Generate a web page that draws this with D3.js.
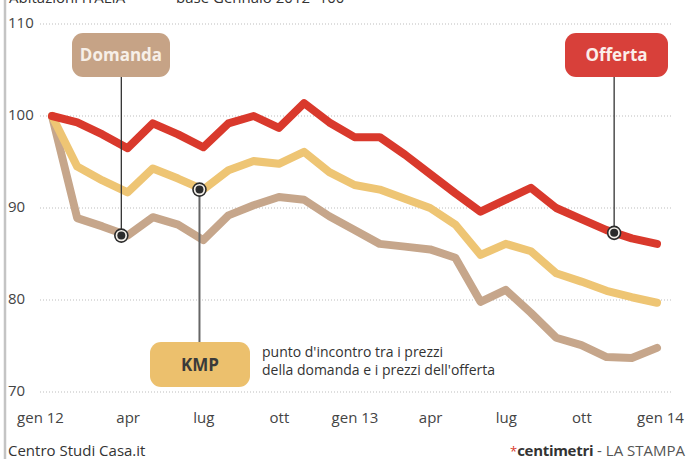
<!DOCTYPE html>
<html>
<head>
<meta charset="utf-8">
<script src="https://cdn.jsdelivr.net/npm/d3@7"></script>
<style>
  body { margin: 0; background: #fff; }
  svg { display: block; font-family: "Open Sans", "Noto Sans", sans-serif; }
</style>
</head>
<body>
<div id="chart"></div>
<script>
// Months from gen 12 (0) to gen 14 (24)
const months = d3.range(0, 25);
const tickMonths = [0, 3, 6, 9, 12, 15, 18, 21, 24];
const tickLabels = ["gen 12", "apr", "lug", "ott", "gen 13", "apr", "lug", "ott", "gen 14"];
const yTicks = [70, 80, 90, 100, 110];

// Index, base Gennaio 2012 = 100
const offerta = [100, 99.3, 98.0, 96.5, 99.2, 98.0, 96.6, 99.2, 100, 98.7, 101.4, 99.3, 97.7,
                 97.7, 95.8, 93.7, 91.6, 89.6, 90.9, 92.2, 90.0, 88.8, 87.6, 86.7, 86.1];
const kmp     = [100, 94.5, 93.0, 91.7, 94.3, 93.2, 92.0, 94.1, 95.1, 94.8, 96.1, 93.9, 92.5,
                 92.0, 91.0, 90.0, 88.2, 84.9, 86.1, 85.3, 82.9, 82.0, 81.0, 80.3, 79.7];
const domanda = [100, 88.9, 88.0, 87.0, 89.0, 88.2, 86.5, 89.2, 90.3, 91.2, 90.9, 89.1, 87.6,
                 86.1, 85.8, 85.5, 84.6, 79.8, 81.1, 78.6, 75.9, 75.1, 73.8, 73.7, 74.8];

const seriesNames = ["Domanda", "KMP", "Offerta"];
const seriesValues = [domanda, kmp, offerta];
const seriesColors = ["#c6a68b", "#eec574", "#d9392c"];

// callouts: month and value of the marked point
const markerMonths = [2.75, 5.85, 22.3];
const markerValues = [87.0, 92.0, 87.3];

const W = 687, H = 459;
const svg = d3.select("#chart").append("svg")
  .attr("width", W).attr("height", H);

const x = d3.scaleLinear().domain([0, 24]).range([52, 657]);
const y = d3.scaleLinear().domain([70, 110]).range([392, 24]);

// left border
svg.append("line")
  .attr("x1", 5).attr("x2", 5).attr("y1", 0).attr("y2", H)
  .attr("stroke", "#c4c4c4").attr("stroke-width", 2.5);

// header (cut off at top, as in the original)
svg.append("text").attr("x", 9).attr("y", 3)
  .attr("font-size", 15).attr("fill", "#333").text("Abitazioni ITALIA");
svg.append("text").attr("x", 176).attr("y", 3)
  .attr("font-size", 15).attr("fill", "#333").text("base Gennaio 2012=100");

// gridlines + y labels
const yAxis = svg.append("g");
yAxis.selectAll("line.grid")
  .data(yTicks)
  .enter().append("line")
  .attr("class", "grid")
  .attr("x1", 40).attr("x2", 672)
  .attr("y1", d => y(d)).attr("y2", d => y(d))
  .attr("stroke", "#bdbdbd")
  .attr("stroke-width", 1)
  .attr("stroke-dasharray", "1,2");
yAxis.selectAll("text.ylab")
  .data(yTicks)
  .enter().append("text")
  .attr("class", "ylab")
  .attr("x", 8)
  .attr("y", d => y(d) + 4)
  .attr("font-size", 15)
  .attr("fill", "#444")
  .text(d => d);

// x axis labels
const xAxis = svg.append("g")
  .attr("transform", "translate(0,409)")
  .call(d3.axisBottom(x).tickValues(tickMonths).tickSize(0).tickPadding(0)
    .tickFormat((d, i) => tickLabels[i]));
xAxis.select(".domain").remove();
xAxis.selectAll("text")
  .attr("font-size", 15)
  .attr("font-family", "\"Open Sans\", sans-serif")
  .attr("fill", "#444")
  .attr("dy", "0.95em")
  .attr("dx", (d, i) => i === 0 ? -12 : (i === 8 ? 3 : 0));

// lines
const line = d3.line()
  .x((d, i) => x(months[i]))
  .y(d => y(d));

svg.selectAll("path.series")
  .data(seriesValues)
  .enter().append("path")
  .attr("class", "series")
  .attr("d", line)
  .attr("fill", "none")
  .attr("stroke", (d, i) => seriesColors[i])
  .attr("stroke-width", 8)
  .attr("stroke-linejoin", "round")
  .attr("stroke-linecap", "round");

// callout boxes
const boxes = [
  { name: "Domanda", x0: 72, y0: 33, w: 98, h: 44, fill: "#c6a386", text: "#f7efe8" },
  { name: "KMP", x0: 150, y0: 342, w: 100, h: 45, fill: "#ecc06d", text: "#3a3a3a" },
  { name: "Offerta", x0: 565, y0: 33, w: 103, h: 44, fill: "#d8403a", text: "#fbeeea" }
];

// leader lines
svg.append("line")
  .attr("x1", x(markerMonths[0])).attr("x2", x(markerMonths[0]))
  .attr("y1", 77).attr("y2", y(markerValues[0]))
  .attr("stroke", "#333").attr("stroke-width", 1.3);
svg.append("line")
  .attr("x1", x(markerMonths[1])).attr("x2", x(markerMonths[1]))
  .attr("y1", y(markerValues[1])).attr("y2", 342)
  .attr("stroke", "#666").attr("stroke-width", 2);
svg.append("line")
  .attr("x1", x(markerMonths[2])).attr("x2", x(markerMonths[2]))
  .attr("y1", 77).attr("y2", y(markerValues[2]))
  .attr("stroke", "#333").attr("stroke-width", 1.3);

boxes.forEach(b => {
  svg.append("rect")
    .attr("x", b.x0).attr("y", b.y0)
    .attr("width", b.w).attr("height", b.h)
    .attr("rx", 11)
    .attr("fill", b.fill);
  svg.append("text")
    .attr("x", b.x0 + b.w / 2)
    .attr("y", b.y0 + b.h / 2 + 6)
    .attr("text-anchor", "middle")
    .attr("font-size", 17)
    .attr("font-weight", "bold")
    .attr("fill", b.text)
    .text(b.name);
});

svg.append("text")
  .attr("x", 262).attr("y", 357)
  .attr("font-size", 14).attr("fill", "#333")
  .text("punto d'incontro tra i prezzi");
svg.append("text")
  .attr("x", 262).attr("y", 375)
  .attr("font-size", 14).attr("fill", "#333")
  .text("della domanda e i prezzi dell'offerta");

// markers
const mk = svg.selectAll("g.marker")
  .data(markerMonths)
  .enter().append("g")
  .attr("class", "marker")
  .attr("transform", (d, i) => `translate(${x(d)},${y(markerValues[i])})`);
mk.append("circle").attr("r", 6.5)
  .attr("fill", "#f4f0ea").attr("stroke", "#2b2b2b").attr("stroke-width", 1.6);
mk.append("circle").attr("r", 4)
  .attr("fill", "#2b2b2b");

// footer
svg.append("text").attr("x", 8).attr("y", 456)
  .attr("font-size", 15).attr("fill", "#333")
  .text("Centro Studi Casa.it");
const credit = svg.append("text").attr("x", 685).attr("y", 456)
  .attr("text-anchor", "end")
  .attr("font-size", 15).attr("fill", "#333");
credit.append("tspan").attr("fill", "#d9392c").attr("font-size", 13).text("*");
credit.append("tspan").attr("font-weight", "bold").attr("letter-spacing", -0.3).text("centimetri");
credit.append("tspan").attr("fill", "#555").text(" - LA STAMPA");
</script>
</body>
</html>
